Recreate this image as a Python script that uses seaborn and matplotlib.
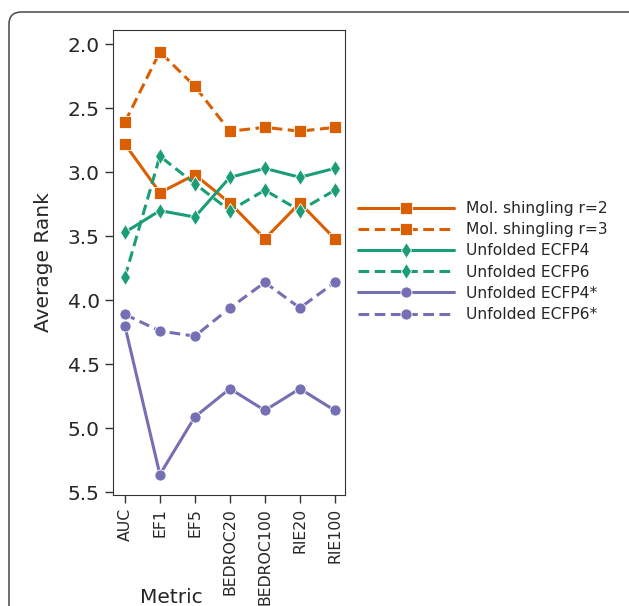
import pandas as pd
import matplotlib.pyplot as plt
import seaborn as sns
from matplotlib.patches import FancyBboxPatch

# --- data ---
metrics = ['AUC', 'EF1', 'EF5', 'BEDROC20', 'BEDROC100', 'RIE20', 'RIE100']
methods = ['Mol. shingling r=2', 'Mol. shingling r=3', 'Unfolded ECFP4',
           'Unfolded ECFP6', 'Unfolded ECFP4*', 'Unfolded ECFP6*']

shingling_r2 = [2.78, 3.16, 3.02, 3.24, 3.52, 3.24, 3.52]
shingling_r3 = [2.61, 2.06, 2.33, 2.68, 2.65, 2.68, 2.65]
ecfp4 = [3.47, 3.30, 3.35, 3.04, 2.97, 3.04, 2.97]
ecfp6 = [3.82, 2.875, 3.09, 3.30, 3.14, 3.30, 3.14]
ecfp4_star = [4.20, 5.36, 4.91, 4.69, 4.86, 4.69, 4.86]
ecfp6_star = [4.11, 4.24, 4.28, 4.06, 3.86, 4.06, 3.86]

all_ranks = [shingling_r2, shingling_r3, ecfp4, ecfp6, ecfp4_star, ecfp6_star]

rows = []
for m, vals in zip(methods, all_ranks):
    for met, v in zip(metrics, vals):
        rows.append({'Metric': met, 'Method': m, 'Average Rank': v})
df = pd.DataFrame(rows)

orange, green, purple = '#d95f02', '#1b9e77', '#7570b3'
palette = dict(zip(methods, [orange, orange, green, green, purple, purple]))
markers = dict(zip(methods, ['s', 's', 'd', 'd', 'o', 'o']))
dashes = dict(zip(methods, ['', (3.5, 1.8), '', (3.5, 1.8), '', (3.5, 1.8)]))

sns.set_style("ticks")
plt.rcParams['font.family'] = ['DejaVu Sans']

fig = plt.figure(figsize=(6.29, 6.06), dpi=100)

# rounded frame around the panel (cropped at right/bottom)
frame = FancyBboxPatch((9 / 629, -0.2), 1.2, 1 - 12 / 606 + 0.2,
                       boxstyle="round,pad=0,rounding_size=0.02",
                       transform=fig.transFigure, fill=False,
                       edgecolor='#555555', linewidth=1.2)
fig.patches.append(frame)

ax = fig.add_axes([113 / 629, 1 - 495 / 606, 232 / 629, 465 / 606])

sns.lineplot(data=df, x='Metric', y='Average Rank', hue='Method', style='Method',
             palette=palette, markers=markers, dashes=dashes, sort=False,
             linewidth=2.2, markersize=8, markeredgecolor='white',
             markeredgewidth=0.6, ax=ax)

ax.set_ylim(5.52, 1.89)
ax.set_xlim(-0.34, 6.29)
ax.set_yticks([2.0, 2.5, 3.0, 3.5, 4.0, 4.5, 5.0, 5.5])
ax.tick_params(axis='both', length=6, width=1, color='#333333')
ax.tick_params(axis='y', labelsize=14.5)
ax.tick_params(axis='x', labelsize=11.3, rotation=90)
ax.set_xlabel('Metric', fontsize=14.5)
ax.xaxis.set_label_coords(0.25, -0.2)
ax.set_ylabel('Average Rank', fontsize=14.5)
ax.yaxis.set_label_coords(-0.26, 0.5)
for s in ax.spines.values():
    s.set_color('#333333')

handles, labels = ax.get_legend_handles_labels()
ax.get_legend().remove()
fig.legend(handles, labels, loc='center left', bbox_to_anchor=(344 / 629, 1 - 261.5 / 606),
           frameon=False, fontsize=11.2, handlelength=6.2, handletextpad=0.75,
           labelspacing=0.4)

plt.savefig('out.png', dpi=100)
